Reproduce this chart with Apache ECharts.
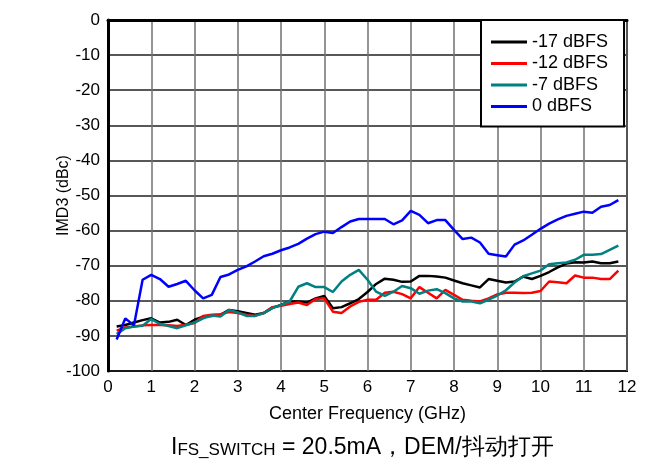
<!DOCTYPE html>
<html>
<head>
<meta charset="utf-8">
<script src="https://cdn.jsdelivr.net/npm/echarts@6/dist/echarts.min.js"></script>
<style>
  html, body { margin: 0; padding: 0; background: #fff; }
  #box { width: 663px; height: 466px; }
</style>
</head>
<body>
<div id="box"></div>
<script>
// frequency points (GHz)
var freq = [0.2,0.4,0.6,0.8,1.0,1.2,1.4,1.6,1.8,2.0,2.2,2.4,2.6,2.8,3.0,3.2,3.4,3.6,3.8,4.0,
  4.2,4.4,4.6,4.8,5.0,5.2,5.4,5.6,5.8,6.0,6.2,6.4,6.6,6.8,7.0,7.2,7.4,7.6,7.8,8.0,
  8.2,8.4,8.6,8.8,9.0,9.2,9.4,9.6,9.8,10.0,10.2,10.4,10.6,10.8,11.0,11.2,11.4,11.6,11.8];

var imdM17 = [-87.3,-86.9,-86.2,-85.5,-85,-86.2,-86,-85.4,-86.9,-85.4,-84.5,-84.3,-84,-82.6,-83,-83.5,-84,-83.5,-82,-81.2,
  -80.2,-80.2,-80.5,-79.3,-78.6,-82.1,-81.8,-80.7,-79.5,-77.5,-75.2,-73.7,-74,-74.6,-74.5,-72.9,-72.9,-73.1,-73.4,-74.2,
  -75,-75.6,-76.2,-73.8,-74.3,-74.8,-74.5,-73.1,-73.8,-72.9,-71.8,-70.5,-69.4,-69,-69.1,-68.8,-69.3,-69.3,-68.8];

var imdM12 = [-88.5,-87.6,-87.3,-87,-86.9,-86.9,-87,-87.2,-86.8,-86.3,-84.3,-84,-83.8,-83.2,-83.5,-84,-84.3,-83.5,-81.8,-81.4,
  -80.9,-80.5,-81.2,-79.5,-79.3,-83.1,-83.5,-81.6,-80.3,-79.7,-79.7,-77.7,-77.4,-78.1,-79.3,-76.1,-77.7,-79.3,-76.9,-78.3,
  -79.7,-80,-80.2,-79.3,-78.2,-77.7,-77.7,-77.8,-77.7,-77.2,-74.5,-74.7,-75,-72.8,-73.4,-73.4,-73.8,-73.8,-71.4];

var imdM7 = [-89.5,-87.8,-87.3,-87.1,-85.2,-86.6,-87.2,-87.8,-87,-86.2,-85,-84.2,-84.5,-82.6,-83.3,-84.3,-84.3,-83.5,-82.1,-81.2,
  -80.2,-76,-75,-76.1,-76.1,-77.5,-74.5,-72.6,-71.2,-74,-77.4,-78.6,-77.4,-75.8,-76.4,-78,-77.1,-76.7,-77.8,-79.3,
  -80.2,-80.2,-80.7,-79.7,-78.5,-77,-74.8,-73,-72.2,-71.4,-69.6,-69.3,-69.1,-68.3,-66.9,-66.9,-66.7,-65.5,-64.3];

var imd0 = [-91,-85,-87,-74,-72.6,-73.8,-76,-75.2,-74.3,-77,-79.3,-78.3,-73.2,-72.5,-71.2,-70.2,-68.8,-67.3,-66.6,-65.6,
  -64.8,-63.8,-62.3,-61,-60.3,-60.7,-59,-57.4,-56.7,-56.7,-56.7,-56.7,-58.2,-57.1,-54.4,-55.5,-57.9,-57,-57,-59.8,
  -62.4,-62,-63.4,-66.6,-67,-67.4,-64,-62.8,-61.2,-59.5,-58,-56.8,-55.8,-55.2,-54.6,-54.9,-53.2,-52.7,-51.3];

var seriesNames = ['-17 dBFS', '-12 dBFS', '-7 dBFS', '0 dBFS'];
var seriesColors = ['#000000', '#ff0000', '#008080', '#0000ff'];
var seriesValues = [imdM17, imdM12, imdM7, imd0];

function pairs(vals) {
  return freq.map(function (f, i) { return [f, vals[i]]; });
}

var myChart = echarts.init(document.getElementById('box'));

var font = 'Liberation Sans, Arial, sans-serif';

option = {
  animation: false,
  backgroundColor: '#fff',
  textStyle: { fontFamily: font },
  title: {
    left: 166,
    top: 424,
    text: '{a|I}{b|FS_SWITCH}{a| = 20.5mA，DEM/抖动打开}',
    textStyle: {
      fontWeight: 'normal',
      rich: {
        a: { fontSize: 23, color: '#000', fontWeight: 'normal', fontFamily: font, lineHeight: 30, verticalAlign: 'bottom' },
        b: { fontSize: 17, color: '#000', fontWeight: 'normal', fontFamily: font, lineHeight: 30, verticalAlign: 'bottom', padding: [11, 0, 0, 0] }
      }
    }
  },
  legend: {
    orient: 'vertical',
    left: 481,
    top: 20,
    padding: [13, 16, 11, 10],
    itemGap: 3.5,
    itemWidth: 36,
    itemHeight: 3,
    icon: 'rect',
    backgroundColor: '#fff',
    borderColor: '#000',
    borderWidth: 2,
    borderRadius: 0,
    textStyle: { fontSize: 18, color: '#000', fontFamily: font },
    data: seriesNames
  },
  grid: {
    left: 108,
    right: 36,
    top: 20,
    bottom: 95,
    show: true,
    borderColor: '#000',
    borderWidth: 2
  },
  xAxis: {
    type: 'value',
    min: 0,
    max: 12,
    interval: 1,
    name: 'Center Frequency (GHz)',
    nameLocation: 'middle',
    nameGap: 34,
    nameTextStyle: { fontSize: 18, color: '#000', fontFamily: font },
    axisLine: { lineStyle: { color: '#000', width: 3 } },
    axisTick: { show: false },
    axisLabel: { fontSize: 17, color: '#000', margin: 8, fontFamily: font },
    splitLine: { show: true, lineStyle: { color: '#707070', width: 1.5 } }
  },
  yAxis: {
    type: 'value',
    min: -100,
    max: 0,
    interval: 10,
    name: 'IMD3 (dBc)',
    nameLocation: 'middle',
    nameGap: 36,
    nameMoveOverlap: false,
    nameTextStyle: { fontSize: 16, color: '#000', fontFamily: font },
    axisLine: { show: true, lineStyle: { color: '#000', width: 3 } },
    axisTick: { show: false },
    axisLabel: { fontSize: 17, color: '#000', margin: 8, fontFamily: font },
    splitLine: { show: true, lineStyle: { color: '#202020', width: 1.5 } }
  },
  series: seriesNames.map(function (name, k) {
    return {
      name: name,
      type: 'line',
      showSymbol: false,
      symbol: 'none',
      color: seriesColors[k],
      lineStyle: { width: 2.5, color: seriesColors[k] },
      z: 2 + k,
      data: pairs(seriesValues[k])
    };
  })
};

myChart.setOption(option);
</script>
</body>
</html>
